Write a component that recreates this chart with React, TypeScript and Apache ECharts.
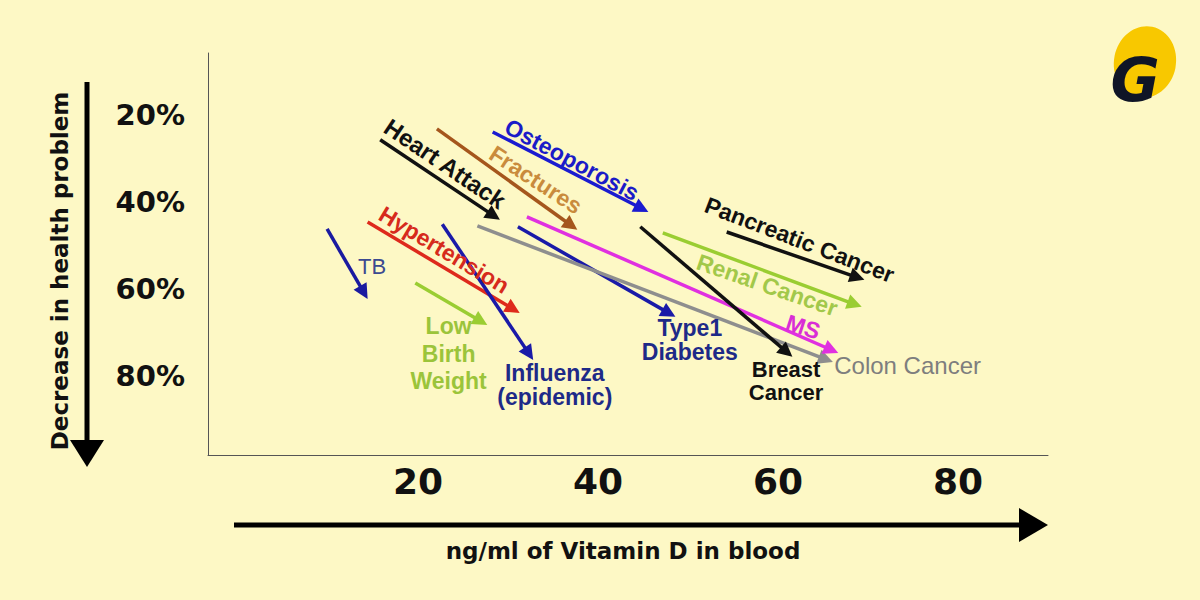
import React, { useEffect, useRef } from "react";
import * as echarts from "echarts";

// ---- Data ----
const xTickValues = [20, 40, 60, 80];
const yTickValues = [20, 40, 60, 80];

const arrowNames = [
  "TB",
  "Hypertension",
  "Low Birth Weight",
  "Heart Attack",
  "Fractures",
  "Osteoporosis",
  "Influenza (epidemic)",
  "Type1 Diabetes",
  "Colon Cancer",
  "MS",
  "Breast Cancer",
  "Renal Cancer",
  "Pancreatic Cancer",
];
const arrowStartX = [9.9, 14.4, 19.7, 15.8, 22.1, 28.3, 22.7, 31.1, 26.6, 32.1, 44.7, 47.2, 54.3];
const arrowStartY = [46.2, 44.6, 58.6, 25.7, 23.2, 23.9, 45.1, 45.7, 45.5, 43.4, 45.7, 47.1, 46.9];
const arrowEndX = [14.4, 31.3, 27.7, 29.1, 37.7, 45.6, 32.8, 48.6, 66.1, 66.7, 61.6, 69.3, 69.6];
const arrowEndY = [62.3, 65.5, 68.3, 44.1, 46.4, 42.3, 76.3, 66.4, 76.8, 74.7, 75.6, 64.1, 57.9];

const labelTexts = [
  "TB",
  "Hypertension",
  "Low\nBirth\nWeight",
  "Heart Attack",
  "Fractures",
  "Osteoporosis",
  "Influenza\n(epidemic)",
  "Type1\nDiabetes",
  "Colon Cancer",
  "MS",
  "Breast\nCancer",
  "Renal Cancer",
  "Pancreatic Cancer",
];
const labelX = [14.9, 22.9, 23.4, 23.0, 33.1, 37.1, 35.2, 50.2, 74.4, 62.8, 60.9, 58.8, 62.4];
const labelY = [54.9, 51.0, 74.9, 31.2, 34.9, 30.3, 82.1, 71.7, 77.5, 68.7, 81.1, 59.1, 48.7];

// ---- Styles ----
const arrowColors = [
  "#1a1aa0", "#de2a1c", "#9acd32", "#111111", "#a5561c", "#1b1bd0", "#1a1aa8",
  "#1a1aa8", "#8e8e8e", "#e030e0", "#111111", "#9acd32", "#111111",
];
const labelColors = [
  "#3c4a90", "#d62a1c", "#9bc43a", "#111111", "#c98b3c", "#1b1bc8", "#1e2a88",
  "#1e2a88", "#7e7e7e", "#d92ed6", "#111111", "#a2c84a", "#111111",
];
const labelRotations = [0, -31, 0, -34, -33, -28, 0, 0, 0, -18, 0, -19, -21];
const labelLineHeights = [24, 24, 27.5, 24, 24, 24, 24, 24, 24, 24, 23, 24, 24];
const labelSizes = [22, 23, 23, 24, 23, 23, 23, 23, 24, 23, 22, 23, 23];
const labelWeights = ["normal", "bold", "bold", "bold", "bold", "bold", "bold", "bold", "normal", "bold", "bold", "bold", "bold"];

const BG = "#FDF8C5";
const OUTER_FONT = "DejaVu Sans";
const INNER_FONT = "Liberation Sans";

export default function App() {
  const ref = useRef<HTMLDivElement>(null);

  useEffect(() => {
    if (!ref.current) return;
    const chart = echarts.init(ref.current, undefined, { renderer: "svg" });

    const arrowData = arrowNames.map((n, i) => ({
      name: n,
      value: [arrowStartX[i], arrowStartY[i], arrowEndX[i], arrowEndY[i]],
    }));
    const labelData = labelTexts.map((t, i) => ({ name: t, value: [labelX[i], labelY[i]] }));

    const option: any = {
      animation: false,
      backgroundColor: BG,
      grid: {
        left: 208,
        right: 152,
        top: 53,
        bottom: 145,
        containLabel: false,
        outerBoundsMode: "none",
      },
      xAxis: {
        type: "value",
        min: -3.333,
        max: 90,
        splitLine: { show: false },
        axisTick: { show: false },
        axisLine: { show: true, onZero: false, lineStyle: { color: "#555", width: 1 } },
        axisLabel: {
          customValues: xTickValues,
          margin: 8,
          fontSize: 36,
          fontWeight: "bold",
          fontFamily: OUTER_FONT,
          color: "#111",
        },
      },
      yAxis: {
        type: "value",
        inverse: true,
        min: 5.75,
        max: 98.16,
        splitLine: { show: false },
        axisTick: { show: false },
        axisLine: { show: true, onZero: false, lineStyle: { color: "#555", width: 1 } },
        axisLabel: {
          customValues: yTickValues,
          formatter: "{value}%",
          margin: 23,
          fontSize: 29,
          fontWeight: "bold",
          fontFamily: OUTER_FONT,
          color: "#111",
        },
      },
      series: [
        {
          type: "custom",
          name: "arrows",
          coordinateSystem: "cartesian2d",
          clip: false,
          encode: { x: [0, 2], y: [1, 3] },
          data: arrowData,
          renderItem: (params: any, api: any) => {
            const i = params.dataIndex;
            const p1 = api.coord([api.value(0), api.value(1)]);
            const p2 = api.coord([api.value(2), api.value(3)]);
            const dx = p2[0] - p1[0];
            const dy = p2[1] - p1[1];
            const len = Math.hypot(dx, dy);
            const ux = dx / len;
            const uy = dy / len;
            const headLen = 15;
            const headW = 7.5;
            const bx = p2[0] - ux * headLen;
            const by = p2[1] - uy * headLen;
            const color = arrowColors[i];
            return {
              type: "group",
              children: [
                {
                  type: "line",
                  shape: { x1: p1[0], y1: p1[1], x2: bx + ux * 2, y2: by + uy * 2 },
                  style: { stroke: color, lineWidth: 3.5 },
                },
                {
                  type: "polygon",
                  shape: {
                    points: [
                      [p2[0], p2[1]],
                      [bx - uy * headW, by + ux * headW],
                      [bx + uy * headW, by - ux * headW],
                    ],
                  },
                  style: { fill: color },
                },
              ],
            };
          },
        },
        {
          type: "custom",
          name: "labels",
          coordinateSystem: "cartesian2d",
          clip: false,
          data: labelData,
          renderItem: (params: any, api: any) => {
            const i = params.dataIndex;
            const p = api.coord([api.value(0), api.value(1)]);
            return {
              type: "text",
              x: p[0],
              y: p[1],
              rotation: (labelRotations[i] * Math.PI) / 180,
              style: {
                text: labelTexts[i],
                fill: labelColors[i],
                fontSize: labelSizes[i],
                fontWeight: labelWeights[i],
                fontFamily: INNER_FONT,
                align: "center",
                verticalAlign: "middle",
                lineHeight: labelLineHeights[i],
              },
            };
          },
        },
      ],
      graphic: [
        // vertical arrow
        {
          type: "line",
          shape: { x1: 87, y1: 82, x2: 87, y2: 442 },
          style: { stroke: "#000", lineWidth: 5 },
        },
        {
          type: "polygon",
          shape: { points: [[70, 440], [104, 440], [87, 467]] },
          style: { fill: "#000" },
        },
        // horizontal arrow
        {
          type: "line",
          shape: { x1: 234, y1: 525, x2: 1022, y2: 525 },
          style: { stroke: "#000", lineWidth: 5 },
        },
        {
          type: "polygon",
          shape: { points: [[1019, 508], [1019, 542], [1048, 525]] },
          style: { fill: "#000" },
        },
        // axis titles
        {
          type: "text",
          x: 623,
          y: 551,
          style: {
            text: "ng/ml of Vitamin D in blood",
            fill: "#111",
            fontSize: 23,
            fontWeight: "bold",
            fontFamily: OUTER_FONT,
            align: "center",
            verticalAlign: "middle",
          },
        },
        {
          type: "text",
          x: 60,
          y: 271,
          rotation: Math.PI / 2,
          style: {
            text: "Decrease in health problem",
            fill: "#111",
            fontSize: 23,
            fontWeight: "bold",
            fontFamily: OUTER_FONT,
            align: "center",
            verticalAlign: "middle",
          },
        },
        // logo
        {
          type: "ellipse",
          x: 1145,
          y: 62,
          rotation: -0.2,
          shape: { cx: 0, cy: 0, rx: 31, ry: 36 },
          style: { fill: "#F8C800" },
        },
        {
          type: "text",
          x: 1135,
          y: 80,
          style: {
            text: "G",
            fill: "#0F1526",
            fontSize: 60,
            fontWeight: "bold",
            fontStyle: "italic",
            fontFamily: OUTER_FONT,
            align: "center",
            verticalAlign: "middle",
          },
        },
      ],
    };

    chart.setOption(option);
    return () => chart.dispose();
  }, []);

  return (
    <div
      ref={ref}
      style={{ position: "fixed", left: 0, top: 0, width: 1200, height: 600, background: BG }}
    />
  );
}
